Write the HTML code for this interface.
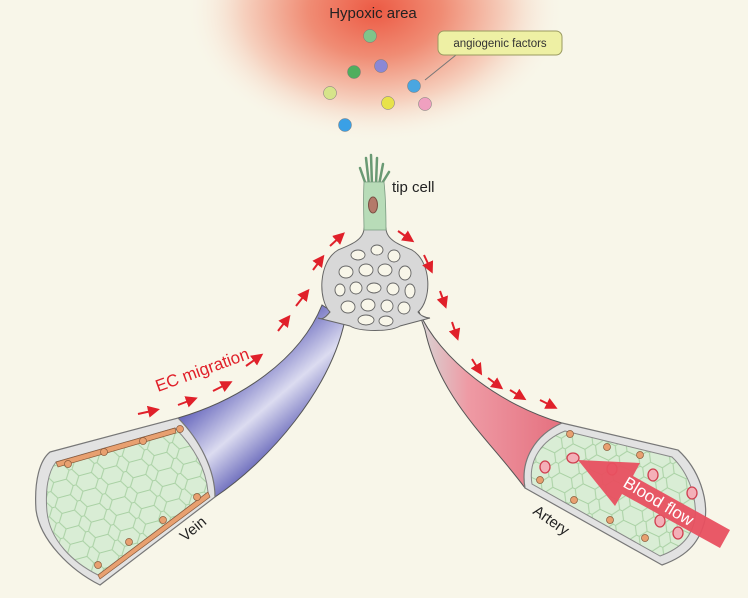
<!DOCTYPE html>
<html><head><meta charset="utf-8"><style>
html,body{margin:0;padding:0;background:#f8f6e9;}
svg{display:block;font-family:"Liberation Sans",sans-serif;}
</style></head><body>
<svg width="748" height="598" viewBox="0 0 748 598" xmlns="http://www.w3.org/2000/svg">
<defs>
<radialGradient id="hyp" cx="375" cy="10" r="190" gradientUnits="userSpaceOnUse" gradientTransform="translate(375 10) scale(1 0.7) translate(-375 -10)">
<stop offset="0" stop-color="#ec5a44"/><stop offset="0.35" stop-color="#f08c74"/><stop offset="0.7" stop-color="#f6d2c0"/><stop offset="1" stop-color="#f8f6e9" stop-opacity="0"/>
</radialGradient>
<linearGradient id="blue" x1="180" y1="420" x2="240" y2="490" gradientUnits="userSpaceOnUse">
<stop offset="0" stop-color="#6c6cbf"/><stop offset="0.5" stop-color="#dcdcf0"/><stop offset="1" stop-color="#5a5ab4"/></linearGradient>
<linearGradient id="bluev" x1="0" y1="0" x2="0" y2="1">
<stop offset="0" stop-color="#d6d6e8"/><stop offset="1" stop-color="#7a7ac4"/></linearGradient>
<linearGradient id="red" x1="0" y1="0" x2="1" y2="0">
<stop offset="0" stop-color="#d7d7d7"/><stop offset="0.35" stop-color="#ee9aa4"/><stop offset="1" stop-color="#e5707f"/></linearGradient>
<pattern id="hex" width="26" height="16" patternUnits="userSpaceOnUse" patternTransform="rotate(-15)">
<rect width="26" height="16" fill="#d9edd5"/>
<path d="M0 8 L5 0 L18 0 L23 8 L18 16 L5 16 Z M23 8 L26 8" fill="none" stroke="#a9d1a4" stroke-width="1"/>
</pattern>
<pattern id="hex2" width="26" height="16" patternUnits="userSpaceOnUse" patternTransform="rotate(25)">
<rect width="26" height="16" fill="#d9edd5"/>
<path d="M0 8 L5 0 L18 0 L23 8 L18 16 L5 16 Z M23 8 L26 8" fill="none" stroke="#a9d1a4" stroke-width="1"/>
</pattern>
<marker id="ah" markerWidth="6" markerHeight="6" refX="4" refY="3" orient="auto" markerUnits="strokeWidth">
<path d="M0 0 L6 3 L0 6 Z" fill="#e0202a"/></marker>
</defs>
<rect width="748" height="598" fill="#f8f6e9"/>
<ellipse cx="375" cy="15" rx="200" ry="140" fill="url(#hyp)"/>
<text x="373" y="18" font-size="15" text-anchor="middle" fill="#222">Hypoxic area</text>
<!-- factors -->
<g stroke="#777" stroke-width="0.5">
<circle cx="370" cy="36" r="6.5" fill="#7fc48a"/>
<circle cx="354" cy="72" r="6.5" fill="#4fae5e"/>
<circle cx="381" cy="66" r="6.5" fill="#8a88d6"/>
<circle cx="330" cy="93" r="6.5" fill="#d6e48a"/>
<circle cx="388" cy="103" r="6.5" fill="#e8e24a"/>
<circle cx="414" cy="86" r="6.5" fill="#4aa6e0"/>
<circle cx="425" cy="104" r="6.5" fill="#f0a0c0"/>
<circle cx="345" cy="125" r="6.5" fill="#3aa0e6"/>
</g>
<line x1="456" y1="55" x2="425" y2="80" stroke="#777" stroke-width="1"/>
<rect x="438" y="31" width="124" height="24" rx="6" fill="#eef0a4" stroke="#9a9a60"/>
<text x="500" y="47" font-size="11.5" text-anchor="middle" fill="#333">angiogenic factors</text>
<!-- vein tube -->
<path d="M178 418 C240 400 300 360 322 305 L345 320 C330 390 270 460 215 497 Z" fill="url(#blue)" stroke="#555" stroke-width="1"/>
<!-- artery tube -->
<path d="M418 310 C440 360 500 405 562 423 L525 488 C490 440 440 400 425 330 Z" fill="url(#red)" stroke="#555" stroke-width="1"/>
<!-- bulb network -->
<path d="M364 228 C364 240 350 245 338 250 C318 262 318 300 330 312 C325 318 322 320 318 318 L350 326 C360 332 390 332 400 326 L430 318 C425 318 420 315 418 312 C432 300 432 262 412 250 C400 245 386 240 386 228 Z" fill="#d8d8d8" stroke="#666" stroke-width="1"/>
<g fill="#f8f6e9" stroke="#666" stroke-width="0.9">
<ellipse cx="358" cy="255" rx="7" ry="5"/><ellipse cx="377" cy="250" rx="6" ry="5"/><ellipse cx="394" cy="256" rx="6" ry="6"/>
<ellipse cx="346" cy="272" rx="7" ry="6"/><ellipse cx="366" cy="270" rx="7" ry="6"/><ellipse cx="385" cy="270" rx="7" ry="6"/><ellipse cx="405" cy="273" rx="6" ry="7"/>
<ellipse cx="340" cy="290" rx="5" ry="6"/><ellipse cx="356" cy="288" rx="6" ry="6"/><ellipse cx="374" cy="288" rx="7" ry="5"/><ellipse cx="393" cy="289" rx="6" ry="6"/><ellipse cx="410" cy="291" rx="5" ry="7"/>
<ellipse cx="348" cy="307" rx="7" ry="6"/><ellipse cx="368" cy="305" rx="7" ry="6"/><ellipse cx="387" cy="306" rx="6" ry="6"/><ellipse cx="404" cy="308" rx="6" ry="6"/>
<ellipse cx="366" cy="320" rx="8" ry="5"/><ellipse cx="386" cy="321" rx="7" ry="5"/>
</g>
<!-- tip cell -->
<g stroke="#6a9a74" stroke-width="2.5" fill="none" stroke-linecap="round">
<line x1="366" y1="185" x2="360" y2="168"/><line x1="369" y1="185" x2="366" y2="158"/><line x1="372" y1="185" x2="371" y2="155"/><line x1="376" y1="185" x2="377" y2="158"/><line x1="379" y1="185" x2="383" y2="164"/><line x1="381" y1="185" x2="389" y2="172"/>
</g>
<path d="M364 182 L384 182 C386 200 386 220 386 230 L364 230 C364 220 363 200 364 182 Z" fill="#b8dcb8" stroke="#7a9a80" stroke-width="0.8"/>
<ellipse cx="373" cy="205" rx="4.5" ry="8" fill="#b47a6a" stroke="#7a5044"/>
<text x="392" y="192" font-size="15" fill="#222">tip cell</text>
<!-- vein cross-section -->
<path d="M50 452 L178 418 C200 440 215 470 215 497 L100 585 C70 570 40 540 36 510 C34 480 40 460 50 452 Z" fill="#e2e2e2" stroke="#777" stroke-width="1.2"/>
<path d="M56 462 L175 428 C195 448 206 470 208 492 L98 575 C72 562 50 540 47 512 C45 490 48 472 56 462 Z" fill="url(#hex)" stroke="#888" stroke-width="1"/>
<g fill="#e8a070" stroke="#8a5a3a" stroke-width="0.7">
<path d="M56 462 L175 428 L176 433 L58 467 Z"/><path d="M98 575 L208 492 L210 497 L100 579 Z"/>
<circle cx="68" cy="464" r="3.5"/><circle cx="104" cy="452" r="3.5"/><circle cx="143" cy="441" r="3.5"/><circle cx="180" cy="429" r="3.5"/>
<circle cx="98" cy="565" r="3.5"/><circle cx="129" cy="542" r="3.5"/><circle cx="163" cy="520" r="3.5"/><circle cx="197" cy="497" r="3.5"/>
</g>
<text x="0" y="0" font-size="15" fill="#222" transform="translate(185 542) rotate(-40)">Vein</text>
<!-- artery cross-section -->
<path d="M562 423 L678 450 C700 470 708 500 705 520 C700 540 690 555 662 565 L525 488 C520 460 535 435 562 423 Z" fill="#e2e2e2" stroke="#777" stroke-width="1.2"/>
<path d="M565 431 L672 457 C690 474 697 500 695 518 C692 536 682 548 660 556 L532 484 C528 460 542 440 565 431 Z" fill="url(#hex2)" stroke="#888" stroke-width="1"/>
<g fill="#e8a070" stroke="#8a5a3a" stroke-width="0.7">
<circle cx="570" cy="434" r="3.5"/><circle cx="607" cy="447" r="3.5"/><circle cx="640" cy="455" r="3.5"/>
<circle cx="540" cy="480" r="3.5"/><circle cx="574" cy="500" r="3.5"/><circle cx="610" cy="520" r="3.5"/><circle cx="645" cy="538" r="3.5"/>
</g>
<g fill="#f4b0b8" stroke="#d04050" stroke-width="1.3">
<ellipse cx="545" cy="467" rx="5" ry="6"/><ellipse cx="573" cy="458" rx="6" ry="5"/><ellipse cx="612" cy="469" rx="5" ry="6"/>
<ellipse cx="653" cy="475" rx="5" ry="6"/><ellipse cx="692" cy="493" rx="5" ry="6"/><ellipse cx="660" cy="521" rx="5" ry="6"/><ellipse cx="678" cy="533" rx="5" ry="6"/>
</g>
<path d="M578 460 L640 463 L633 476 L730 530 L720 548 L622 494 L615 506 Z" fill="#e85060" opacity="0.95"/>
<text x="0" y="0" font-size="17" fill="#fff" transform="translate(622 486) rotate(31)">Blood flow</text>
<text x="0" y="0" font-size="15" fill="#222" transform="translate(532 513) rotate(35)">Artery</text>
<!-- migration arrows -->
<g stroke="#e0202a" stroke-width="2" marker-end="url(#ah)">
<line x1="138" y1="414" x2="156" y2="410"/><line x1="178" y1="405" x2="194" y2="399"/><line x1="213" y1="391" x2="229" y2="383"/><line x1="246" y1="366" x2="260" y2="356"/>
<line x1="278" y1="331" x2="288" y2="318"/><line x1="296" y1="306" x2="307" y2="292"/><line x1="313" y1="270" x2="322" y2="258"/><line x1="330" y1="246" x2="342" y2="235"/>
<line x1="398" y1="231" x2="411" y2="240"/><line x1="424" y1="255" x2="431" y2="270"/><line x1="440" y1="291" x2="445" y2="305"/><line x1="452" y1="322" x2="457" y2="337"/>
<line x1="472" y1="359" x2="480" y2="372"/><line x1="488" y1="378" x2="500" y2="387"/><line x1="510" y1="390" x2="523" y2="398"/><line x1="540" y1="400" x2="554" y2="407"/>
</g>
<text x="0" y="0" font-size="17" fill="#e0202a" transform="translate(158 392) rotate(-20)">EC migration</text>
</svg>
</body></html>
